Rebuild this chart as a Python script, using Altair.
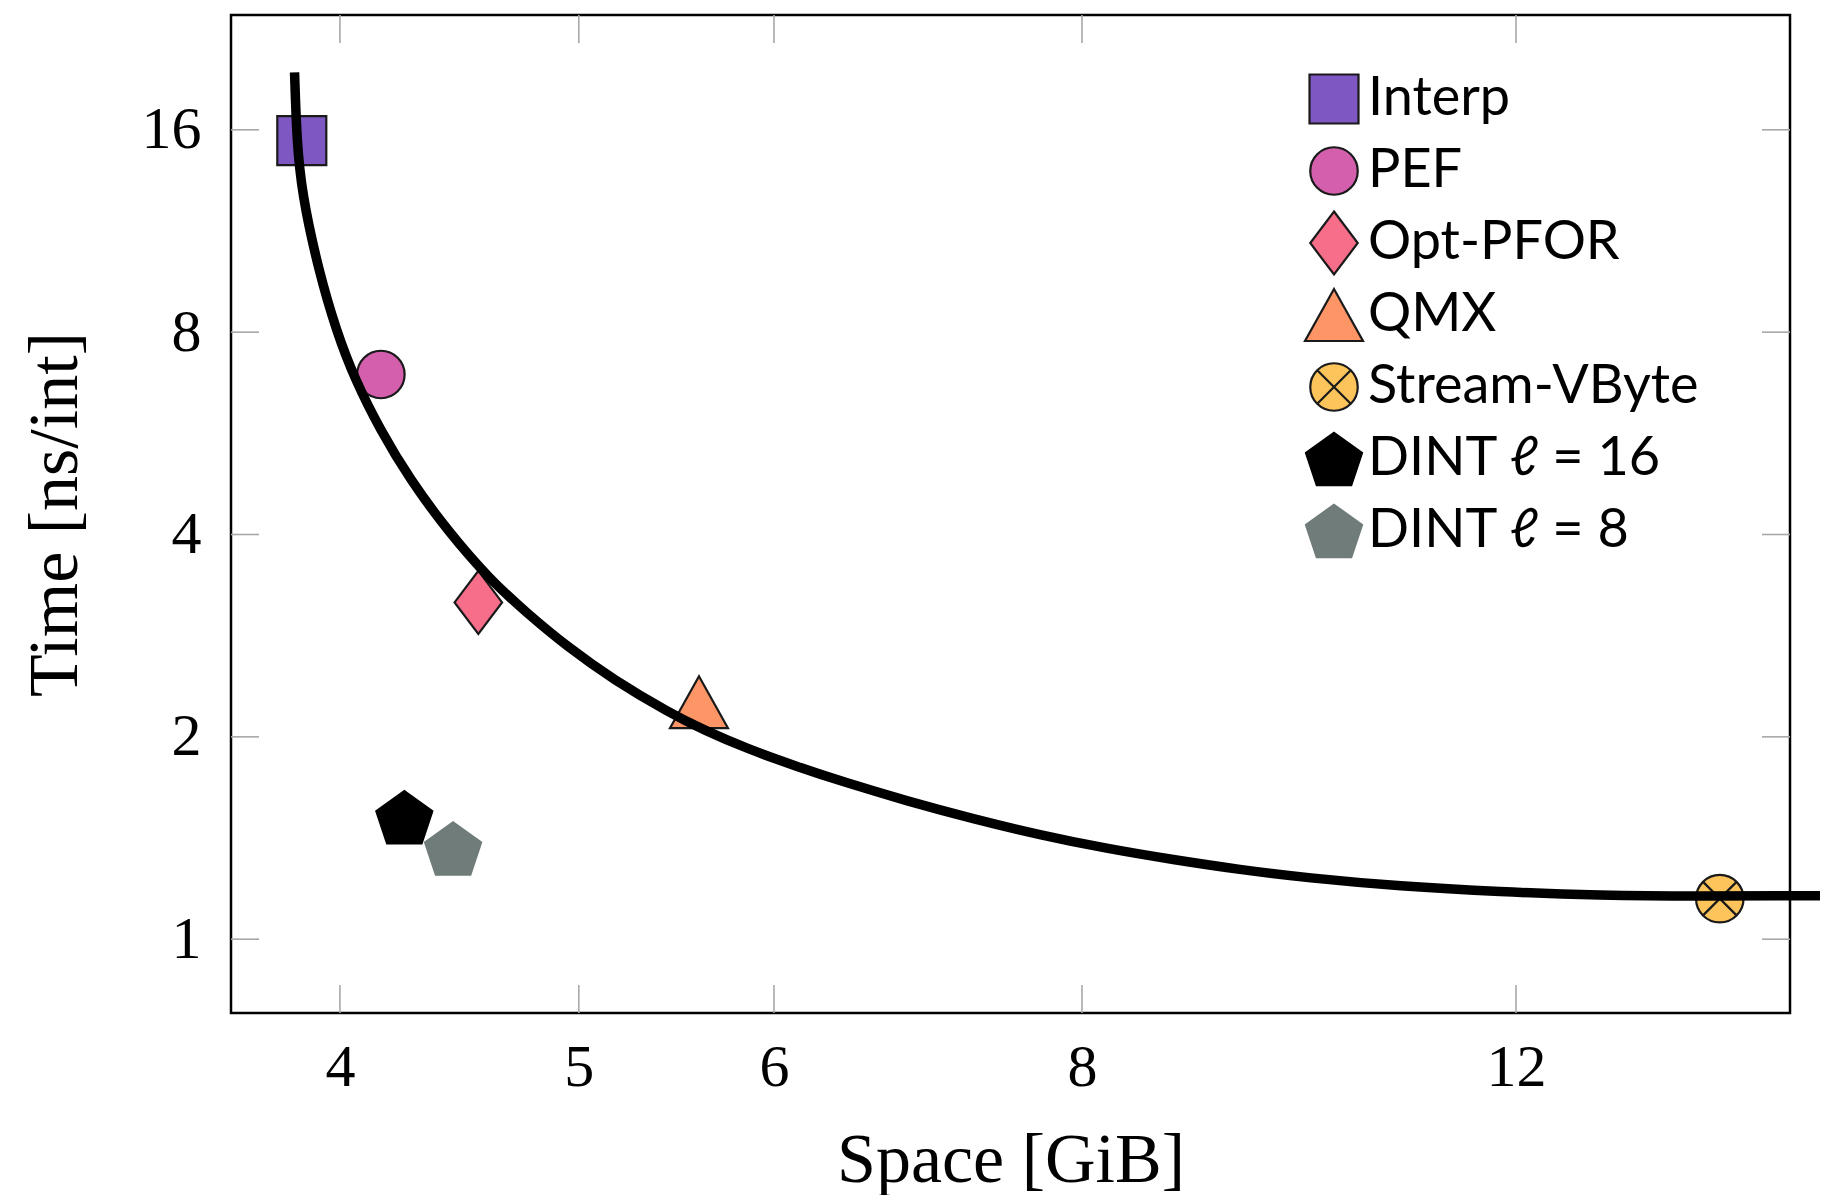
import altair as alt
import pandas as pd

# ---- data ----
methods = ["Interp", "PEF", "Opt-PFOR", "QMX", "Stream-VByte", "DINT ℓ = 16", "DINT ℓ = 8"]
space_gib = [3.860, 4.156, 4.552, 5.594, 14.516, 4.248, 4.446]
time_ns = [15.42, 6.92, 3.17, 2.252, 1.149, 1.518, 1.364]

fill_colors = ["#7E57C2", "#D35FAD", "#F76E8B", "#FD9566", "#FCC45B", "#000000", "#6F7C7A"]
stroke_colors = ["#1a1a1a", "#1a1a1a", "#1a1a1a", "#1a1a1a", "#1a1a1a", "#000000", "#6F7C7A"]
shapes = [
    "M-0.98,-0.98L0.98,-0.98L0.98,0.98L-0.98,0.98Z",
    "M-0.95,0A0.95,0.95 0 1,0 0.95,0A0.95,0.95 0 1,0 -0.95,0Z",
    "M0,-1.26L0.95,0L0,1.26L-0.95,0Z",
    "M0,-1.04L1.16,1.04L-1.16,1.04Z",
    "M-0.95,0A0.95,0.95 0 1,0 0.95,0A0.95,0.95 0 1,0 -0.95,0Z"
    "M-0.67,-0.67L0.67,0.67M-0.67,0.67L0.67,-0.67",
    "M0,-1.047L1.12,-0.247L0.69,1.046L-0.69,1.046L-1.12,-0.247Z",
    "M0,-1.047L1.12,-0.247L0.69,1.046L-0.69,1.046L-1.12,-0.247Z",
]

# trade-off curve
curve_space = [3.834, 3.842, 3.860, 3.920, 3.988, 4.057, 4.153, 4.271, 4.420, 4.602,
               4.763, 4.944, 5.164, 5.445, 5.617, 5.849, 6.129, 6.411, 6.792, 7.228,
               7.692, 8.187, 8.712, 9.272, 9.868, 10.766, 11.82, 12.977, 14.247, 15.482,
               16.19]
curve_time = [19.48, 15.42, 12.88, 9.91, 8.00, 6.797, 5.727, 4.826, 4.066, 3.426,
              3.057, 2.727, 2.433, 2.169, 2.049, 1.921, 1.807, 1.711, 1.606, 1.510,
              1.429, 1.364, 1.313, 1.269, 1.234, 1.199, 1.176, 1.162, 1.158, 1.161,
              1.161]

x_ticks = [4, 5, 6, 8, 12]
y_ticks = [1, 2, 4, 8, 16]

W, H = 1559, 998
TICK = 28

points = pd.DataFrame({"method": methods, "space": space_gib, "time": time_ns})
curve = pd.DataFrame({"space": curve_space, "time": curve_time})
xt = pd.DataFrame({"v": x_ticks})
yt = pd.DataFrame({"v": y_ticks})

xscale = alt.Scale(type="log", domain=[3.613, 15.5], nice=False)
yscale = alt.Scale(type="log", base=2, domain=[0.7766, 23.71], nice=False)

SERIF = "Liberation Serif"

x_axis = alt.Axis(values=x_ticks, title="Space [GiB]", grid=False, ticks=False, domain=False,
                  labelFont=SERIF, labelFontSize=60, labelColor="black", labelPadding=25,
                  titleFont=SERIF, titleFontSize=70, titleFontWeight="normal", titleColor="black",
                  titleY=168, titleBaseline="alphabetic")
y_axis = alt.Axis(values=y_ticks, title="Time [ns/int]", grid=False, ticks=False, domain=False,
                  labelFont=SERIF, labelFontSize=60, labelColor="black", labelPadding=30,
                  titleFont=SERIF, titleFontSize=70, titleFontWeight="normal", titleColor="black",
                  titleX=-176, titleY=H / 2, titleAngle=-90, titleBaseline="middle", titleAlign="center")

TICK_COLOR = "#a8a8a8"
ytick_left = alt.Chart(yt).mark_rule(color=TICK_COLOR, strokeWidth=1.6).encode(
    y=alt.Y("v:Q", scale=yscale, axis=y_axis), x=alt.value(0), x2=alt.value(TICK))
ytick_right = alt.Chart(yt).mark_rule(color=TICK_COLOR, strokeWidth=1.6).encode(
    y=alt.Y("v:Q", scale=yscale), x=alt.value(W - TICK), x2=alt.value(W))
xtick_bottom = alt.Chart(xt).mark_rule(color=TICK_COLOR, strokeWidth=1.6).encode(
    x=alt.X("v:Q", scale=xscale, axis=x_axis), y=alt.value(H - TICK), y2=alt.value(H))
xtick_top = alt.Chart(xt).mark_rule(color=TICK_COLOR, strokeWidth=1.6).encode(
    x=alt.X("v:Q", scale=xscale), y=alt.value(0), y2=alt.value(TICK))

pts = alt.Chart(points).mark_point(filled=True, size=2500, strokeWidth=2.2, opacity=1).encode(
    x=alt.X("space:Q", scale=xscale),
    y=alt.Y("time:Q", scale=yscale),
    fill=alt.Fill("method:N", scale=alt.Scale(domain=methods, range=fill_colors), title=None),
    stroke=alt.Stroke("method:N", scale=alt.Scale(domain=methods, range=stroke_colors), title=None),
    shape=alt.Shape("method:N", scale=alt.Scale(domain=methods, range=shapes), title=None),
)

line = alt.Chart(curve).mark_line(color="black", strokeWidth=9.5, clip=False,
                                  interpolate="basis").encode(
    x=alt.X("space:Q", scale=xscale),
    y=alt.Y("time:Q", scale=yscale),
    order=alt.Order("space:Q"),
)

chart = alt.layer(ytick_left, ytick_right, xtick_bottom, xtick_top, pts, line).properties(
    width=W, height=H,
    autosize=alt.AutoSizeParams(type="none"),
    padding={"left": 223, "top": 7, "right": 30, "bottom": 182},
).configure_view(
    stroke="black", strokeWidth=2.5
).configure_legend(
    orient="none", legendX=1076, legendY=57, padding=0,
    labelFont="Lato", labelFontSize=54, labelColor="black", labelOffset=7,
    symbolSize=2500, symbolStrokeWidth=2.2, rowPadding=0, labelLimit=600,
    symbolOpacity=1, gridAlign="all",
)

chart.save("out.html", embed_options={"renderer": "svg", "actions": False})
